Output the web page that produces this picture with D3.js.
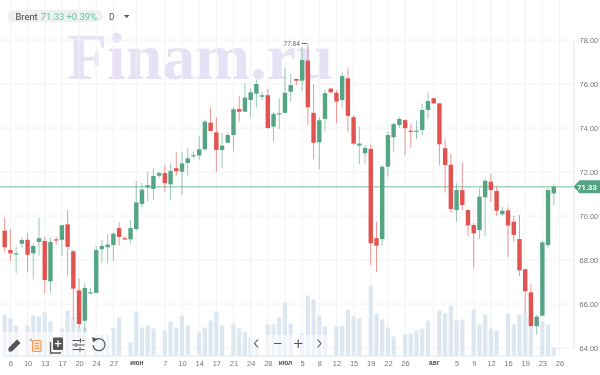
<!DOCTYPE html>
<html lang="en">

<head>
  <meta charset="UTF-8">
  <title>Brent</title>
  <script src="https://d3js.org/d3.v7.min.js"></script>
  <style>
    html, body { margin: 0; padding: 0; background: #fff; }
    svg { display: block; font-family: Roboto, "Open Sans", sans-serif; filter: blur(0.35px); }
  </style>
</head>

<body>
  <svg id="myPlot" width="600" height="375"></svg>

  <script>
    // Daily candles
    const opens = [69.33,68.45,68.27,68.74,68.92,68.30,68.82,68.86,67.03,68.94,
      68.92,69.62,68.40,66.62,65.24,66.49,66.50,68.49,68.58,68.68,
      69.45,68.99,68.94,69.41,70.55,71.30,71.23,71.83,71.95,71.44,
      72.17,72.01,72.41,72.74,72.75,73.03,74.24,73.80,73.00,73.33,
      73.68,74.86,74.74,75.27,75.56,75.42,75.49,74.06,74.62,74.69,
      75.65,76.23,76.15,77.06,74.69,73.35,74.41,75.79,75.60,75.27,
      76.26,74.49,73.20,72.85,73.05,68.99,68.95,72.24,73.58,74.14,
      74.36,73.88,73.83,73.91,74.82,75.35,75.12,73.08,72.33,70.27,
      71.18,70.27,69.59,69.36,70.85,71.56,71.14,70.08,70.26,69.74,
      68.95,67.58,66.53,64.99,65.47,68.68,71.03];
    const highs = [69.95,69.41,68.60,69.01,69.21,68.76,69.92,69.06,69.01,69.06,
      69.59,70.26,68.45,67.17,66.94,66.71,68.64,68.91,69.17,69.24,
      69.71,69.10,69.82,71.59,71.49,72.01,72.17,72.01,72.32,72.39,
      72.90,72.92,73.10,72.92,73.64,74.36,74.95,74.49,73.76,73.79,
      74.94,75.47,76.03,75.80,76.18,75.64,75.76,74.73,75.35,76.74,
      76.44,76.23,77.69,77.84,75.99,74.50,75.76,75.79,75.73,76.56,
      76.71,74.59,74.06,73.23,73.23,69.74,72.32,73.83,74.23,74.50,
      74.39,74.18,74.33,75.12,75.62,75.36,75.12,73.49,72.82,71.49,
      72.44,70.30,69.68,71.26,71.71,71.91,71.33,70.42,70.39,70.00,
      70.05,67.59,66.91,65.50,68.88,71.26,71.44];
    const lows = [68.38,67.95,67.40,68.56,67.44,67.12,68.20,66.49,66.53,68.71,
      68.20,67.29,65.32,64.91,64.73,66.44,66.49,67.85,67.85,67.95,
      68.65,68.91,68.76,69.32,70.38,70.68,70.73,71.73,71.10,70.73,
      71.83,70.95,71.83,72.62,72.55,72.97,73.86,72.01,72.17,73.33,
      72.95,74.29,74.74,74.49,74.94,75.27,73.95,73.35,73.95,74.68,
      75.20,75.95,75.68,74.14,72.58,72.12,73.83,75.62,74.21,74.92,
      73.83,73.23,72.35,72.39,67.77,67.47,68.65,71.79,72.92,74.00,
      72.77,73.08,73.49,73.68,74.40,75.11,72.32,71.06,70.15,69.74,
      70.27,69.09,67.62,68.95,69.10,70.65,70.00,70.00,68.15,68.83,
      67.27,65.65,64.98,64.62,65.45,68.56,70.50];
    const closes = [68.58,68.30,68.30,68.91,68.24,68.64,68.99,67.09,68.82,68.91,
      69.58,68.60,66.70,65.09,66.73,66.53,68.45,68.64,68.70,69.20,
      69.05,68.94,69.45,70.62,71.20,71.40,71.82,71.95,71.49,72.05,
      72.03,72.39,72.62,72.77,73.03,74.29,73.86,73.00,73.20,73.68,
      74.85,74.74,75.38,75.62,76.00,75.49,74.00,74.64,74.67,75.60,
      75.95,76.15,77.09,74.94,73.33,74.35,75.58,75.62,75.20,76.36,
      74.55,73.29,73.29,73.09,68.76,68.65,72.24,73.68,74.18,74.41,
      73.99,73.83,73.88,74.82,75.23,75.12,73.26,72.32,70.32,71.18,
      70.50,69.57,69.21,70.88,71.60,71.18,70.24,70.24,69.57,69.14,
      67.53,66.58,65.00,65.42,68.80,71.18,71.33];
    // Volume has no axis in the picture, so the unit is arbitrary
    const volumes = [41,37,30,0,30,40,39,43,34,0,
      27,45,38,28,28,0,21,21,21,28,
      38,0,13,44,28,30,27,0,25,34,
      28,40,30,0,23,28,35,44,30,0,
      32,27,24,18,11,0,31,31,38,53,
      32,0,22,60,56,40,29,0,29,30,
      46,39,37,0,70,42,36,28,19,0,
      21,22,25,27,35,0,45,42,50,35,
      36,0,46,31,41,27,25,0,42,31,
      41,44,30,0,34,31,8];

    const priceTicks = [64, 66, 68, 70, 72, 74, 76, 78];
    const dateIndex = [1,4,7,10,13,16,19,23,28,31,34,37,40,43,46,49,52,55,58,61,64,67,70,75,79,82,85,88,91,94,97];
    const dateLabels = ["6","10","13","17","20","24","27","июн","7","10","14","17","21","24","28","июл","5","8","12","15","19","22","26","авг","5","9","12","16","19","23","26"];
    const monthLabels = ["июн", "июл", "авг"];
    const lastPrice = 71.33;

    const green = "#55a584";
    const red = "#e2524e";
    const axisX = 573.5;
    const axisY = 355.5;

    const x = d3.scaleLinear().domain([0, 96]).range([4.7, 553.8]);
    const y = d3.scaleLinear().domain([64, 78]).range([348, 40]);
    const v = d3.scaleLinear().domain([0, 70]).range([axisY, axisY - 70]);

    const svg = d3.select("#myPlot");
    const candleColor = function (i) { return closes[i] >= opens[i] ? green : red; };

    // Watermark
    svg.append("text")
      .attr("x", 67).attr("y", 79)
      .attr("font-family", "Liberation Serif")
      .attr("font-weight", "bold")
      .attr("font-size", 66)
      .attr("fill", "#e7e1f5")
      .text("Finam.ru");

    // Grid
    svg.append("g").selectAll("line").data(priceTicks).enter().append("line")
      .attr("x1", 0).attr("x2", axisX)
      .attr("y1", function (d) { return y(d); }).attr("y2", function (d) { return y(d); })
      .attr("stroke", "#f1f2f5");
    svg.append("g").selectAll("line").data(dateIndex).enter().append("line")
      .attr("x1", function (d) { return x(d); }).attr("x2", function (d) { return x(d); })
      .attr("y1", 0).attr("y2", axisY)
      .attr("stroke", "#f1f2f5");

    // Volume
    svg.append("g").selectAll("rect").data(volumes).enter().append("rect")
      .attr("x", function (d, i) { return x(i) - 2.1; })
      .attr("width", 4.2)
      .attr("y", function (d) { return v(d); })
      .attr("height", function (d) { return axisY - v(d); })
      .attr("fill", "#dde7f2");

    // Last price line
    svg.append("line")
      .attr("x1", 0).attr("x2", axisX)
      .attr("y1", y(lastPrice)).attr("y2", y(lastPrice))
      .attr("stroke", "#a5d2c0").attr("stroke-width", 1.4);

    // Wicks
    svg.append("g").selectAll("line").data(closes).enter().append("line")
      .attr("x1", function (d, i) { return x(i); })
      .attr("x2", function (d, i) { return x(i); })
      .attr("y1", function (d, i) { return y(highs[i]); })
      .attr("y2", function (d, i) { return y(lows[i]); })
      .attr("stroke", function (d, i) { return candleColor(i); })
      .attr("stroke-opacity", 0.6);

    // Bodies
    svg.append("g").selectAll("rect").data(closes).enter().append("rect")
      .attr("x", function (d, i) { return x(i) - 2.2; })
      .attr("width", 4.4)
      .attr("y", function (d, i) { return y(Math.max(opens[i], closes[i])); })
      .attr("height", function (d, i) { return Math.max(1.2, Math.abs(y(opens[i]) - y(closes[i]))); })
      .attr("fill", function (d, i) { return candleColor(i); });

    // Highest price marker
    const maxPrice = d3.max(highs);
    const maxIndex = highs.indexOf(maxPrice);
    svg.append("text")
      .attr("x", x(maxIndex) - 8).attr("y", y(maxPrice) + 2.5)
      .attr("text-anchor", "end")
      .attr("font-size", 6.5)
      .attr("fill", "#666")
      .text(maxPrice.toFixed(2));
    svg.append("line")
      .attr("x1", x(maxIndex) - 6).attr("x2", x(maxIndex) - 1)
      .attr("y1", y(maxPrice)).attr("y2", y(maxPrice))
      .attr("stroke", "#666");

    // Axes
    const yAxis = svg.append("g")
      .attr("transform", "translate(" + axisX + ",0)")
      .call(d3.axisRight(y).tickValues(priceTicks).tickSize(0).tickPadding(6).tickFormat(d3.format(".2f")));
    const xAxis = svg.append("g")
      .attr("transform", "translate(0," + axisY + ")")
      .call(d3.axisBottom(x).tickValues(dateIndex).tickSize(0).tickPadding(5)
        .tickFormat(function (d, i) { return dateLabels[i]; }));
    yAxis.selectAll("text").attr("font-size", 7.5).attr("fill", "#777");
    xAxis.selectAll("text").attr("font-size", 7.5).attr("fill", "#777")
      .filter(function () { return monthLabels.indexOf(this.textContent) >= 0; })
      .attr("font-weight", "bold").attr("fill", "#555").attr("font-size", 6.5);
    yAxis.select(".domain").attr("stroke", "#e2e4e8");
    xAxis.select(".domain").attr("stroke", "#e2e4e8");

    // Price tag on the axis
    svg.append("path")
      .attr("transform", "translate(" + axisX + "," + y(lastPrice) + ")")
      .attr("d", "M0,0L6,-6.5H27V6.5H6Z")
      .attr("fill", green);
    svg.append("text")
      .attr("x", 587).attr("y", y(lastPrice) + 2.8)
      .attr("text-anchor", "middle")
      .attr("font-size", 7.5).attr("font-weight", "bold")
      .attr("fill", "#fff")
      .text(lastPrice.toFixed(2));

    // Legend
    svg.append("rect")
      .attr("x", 7).attr("y", 10).attr("width", 96).attr("height", 12).attr("rx", 6)
      .attr("fill", "#f0f0f0");
    const legend = svg.append("text").attr("x", 15.5).attr("y", 19.5).attr("font-size", 9.4);
    legend.append("tspan").attr("fill", "#444").text("Brent");
    legend.append("tspan").attr("dx", 3).attr("fill", "#5fcb9d").text(lastPrice.toFixed(2) + " +0.39%");
    svg.append("text").attr("x", 109).attr("y", 19.5).attr("font-size", 8.5).attr("fill", "#555").text("D");
    svg.append("path").attr("d", "M124,15H129.5L126.7,18Z").attr("fill", "#555");

    // Toolbars over the volume bars
    svg.append("rect").attr("x", 0).attr("y", 332).attr("width", 112).attr("height", 23)
      .attr("fill", "#fff").attr("fill-opacity", 0.55);
    svg.append("rect").attr("x", 250).attr("y", 335).attr("width", 77).attr("height", 20)
      .attr("fill", "#fff").attr("fill-opacity", 0.55);

    // Pencil
    svg.append("path").attr("d", "M8.5,351.5V348L17,339.5L20.5,343L12,351.5Z").attr("fill", "#555");
    // Orange list
    svg.append("rect").attr("x", 32.5).attr("y", 340.5).attr("width", 8.5).attr("height", 11).attr("rx", 1)
      .attr("fill", "#fbe3d0").attr("stroke", "#f19a5b").attr("stroke-width", 1.2);
    svg.append("path").attr("d", "M34.5,343.5H39M34.5,346H39M34.5,348.5H39").attr("stroke", "#f19a5b").attr("fill", "none");
    svg.append("path").attr("d", "M29,339H32V342Z").attr("fill", "#f19a5b");
    // Add box
    svg.append("path").attr("d", "M50.5,342V353H61").attr("stroke", "#555").attr("stroke-width", 1.3).attr("fill", "none");
    svg.append("rect").attr("x", 53).attr("y", 337.5).attr("width", 10).attr("height", 12.5).attr("rx", 1).attr("fill", "#555");
    svg.append("path").attr("d", "M58,340.5V347M54.8,343.7H61.2").attr("stroke", "#fff").attr("stroke-width", 1.3);
    // Sliders
    svg.append("path").attr("d", "M72.5,340.5H80M82,340.5H84.5M72.5,345H75M77,345H84.5M72.5,349.5H79M81,349.5H84.5M80.5,338.5V342.5M76,343V347M80,347.5V351.5")
      .attr("stroke", "#555").attr("stroke-width", 1.2).attr("fill", "none");
    // Undo
    svg.append("path").attr("d", "M96,339.5A6,6 0 1 1 93,345").attr("stroke", "#555").attr("stroke-width", 1.2).attr("fill", "none");
    svg.append("path").attr("d", "M92,337L97.5,339L93,342.5Z").attr("fill", "#555");
    // Navigation
    svg.append("path").attr("d", "M258,339.5L254.5,343.5L258,347.5M274,343.5H281.5M294,343.5H302.5M298.2,339.5V348M317.5,339.5L321,343.5L317.5,347.5")
      .attr("stroke", "#555").attr("stroke-width", 1.1).attr("fill", "none");
  </script>
</body>

</html>
